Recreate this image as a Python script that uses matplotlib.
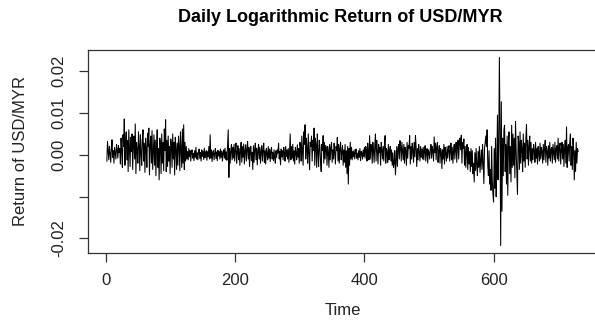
import numpy as np
import matplotlib
matplotlib.use("Agg")
import matplotlib.pyplot as plt

# daily log returns, in units of 1e-4
ret_a = [-15, 32, 8, -12, 20, 5, -18, 14, 36, -6,
         10, -20, 18, 4, -10, 25, 12, -8, 22, 6]
ret_b = [15, -22, 40, 10, -30, 48, 20, 86, -25, 30,
         55, -12, 35, -40, 60, 18, -28, 42, 8, 50,
         -35, 25, 45, -10, 74, -45, 30, 12, -20, 55,
         22, -38, 48, 5, -25, 35, 60, -15, 28, -42,
         40, 15, -30, 52, 20, 64, -48, 25, 45, -20,
         58, -35, 10, 48, -25, 35, -50, 20, 60, -30,
         15, -60, 40, 25, -45, 50, -20, 30, -38, 62,
         10, 84, -40, 35, -28, 45, -15, 20, -45, 38,
         25, -30, 50, -10, 30, -48, 42, 15, -35, 28,
         -25, 45, 20, -38, 55, 10, -30, 62, -20, 72,
         -35, 30, -15, 20, -10]
ret_c = [8, -12, 15, -5, 10, -15, 6, 12, -8, 4,
         -14, 10, -6, 18, -10, 5, -12, 8, 14, -9,
         6, -15, 12, -4, 9, -11, 16, -7, 3, 10,
         -13, 8, -5, 20, -10, 48, -8, 12, -16, 6,
         10, -12, 4, 15, -9, 7, -14, 11, -3, 8,
         -10, 14, -6, 9, -15, 5, 12, -8, 16, -11,
         7, -13, 22, 60, -54, 15, -20, 10, 25, -12]
ret_d = [18, -8, 25, -15, 12, 28, -20, 6, 22, -12,
         15, -25, 10, 30, -18, 20, -6, 26, -22, 8,
         24, -15, 12, 32, -10, 18, -28, 10, 20, -14,
         6, -35, 22, -18, 14, 28, -12, 16, -24, 10,
         25, -10, 18, -20, 8, 22, -15, 12, 28, -18,
         10, -22, 15, 5, -12, 20, -8, 14, -16, 9,
         18, -10, 6, -14, 12]
ret_e = [-8, -20, 10, -6, 12, 4, 28, -10, 8, -24,
         14, -5, 10, -12, 18, 6, -15, 20, -4, 12,
         -10, 15, -18, 8, 50, -12, 20, -8, 25, -15,
         10, -22, 18, 5, -12, 24, -6, 15, -20, 30]
ret_f = [20, -15, 45, 10, -25, 55, 25, 72, -10, 40,
         15, -20, 50, 5, -36, 30, 20, 45, -15, 35,
         10, 64, -25, 40, 22, -30, 50, 5, -28, 35,
         18, -15, -40, 25, 10, 46, -20, 30, -10, 22,
         15, -25, 20, 8, -30, 25, -12, 18, 30, -18,
         12, -10, 28, 5, -22, 20, 10, 42, -15, 25,
         -20, 15, 30, -12, 8, 22, -25, 12, -18, 25,
         -30, 10, -45, 20, -70, 15, -25, 30, -10, 18]
ret_g = [-12, 8, -5, 12, -10, 6, 14, -8, 4, -12,
         10, -6, 15, -14, 8, 5, -10, 12, -4, 18,
         -8, 20, 10, -15, 28, 6, -12, 46, -10, 25,
         15, -20, 30, 8, -18, 22, 50, -15, 35, 10,
         -22, 25, 5, 18, -25, 30, 12, -10, 20, -15,
         28, 46, -20, 15, 8, -18, 25, -12, 10, 20,
         -15, 12, -25, 5, -30, -20, 10, -48, -15, 20,
         -28, 15, 25, -10, 34, 20, -15, 30, 8, -12,
         25, -20, 18, 10, -25, 30, -8, 22, 15, 46,
         -22, 20, -10, 28, 12, -18, 30, -5, 46, 20,
         -28, 15, -12, 25, 8, -15, 20, -6, 14, -10,
         18, -12, 10, 22, -15, 8, 15, -20, 12, 6]
ret_h = [-10, 15, 25, -8, 20, 10, -15, 43, 5, 28,
         -12, 20, 30, -18, 10, 22, -20, 15, 8, -33,
         12, -10, 25, -22, 18, 5, -15, 20, -8, 14,
         22, -15, 10, 28, -12, 18, -20, 8, 25, -10,
         15, 30, -18, 22, 35, -10, 28, 40, 12, 47,
         -20, 30, 15, 38, -25, 20, -30, 10, 25, -35,
         18, -22, 8, -40, 15, -28, 10, -45, -20, -65,
         5, -38, 15, -25, -50, 8, -30, 20, -42, -15,
         12, -35, 25, -20, -69, 15, 30, 45, 20, 60]
ret_i = [-25, -50, 10, -70, -35, -85, 20, -60, -95, -113,
         15, -80, 40, -100, -30, 95, -60, 30, 233, 50,
         -217, 127, -135, 40, -50, 60, 71, -40, 25, -70,
         45, -97, 30, 55, -45, 20, -65, 71, -30, 50,
         -25, 40, -55, 80, 10, -40, -95, 45, 30, -35,
         55, -20, 35, 15, -40, 50, -15, 28, -30, 40,
         73, -10, 35, -25, 20, 45, -15, 30, -20, 15]
ret_j = [-12, 25, 10, -18, 30, -8, 15, -22, 20, 5,
         -15, 28, -10, 18, 8, -20, 25, -12, 15, 35,
         -18, 20, 10, -25, 22, -8, 30, -15, 12, 18,
         -20, 25, 5, -12, 30, -18, 15, 22, -10, 40,
         -15, 20, 28, -22, 12, 30, -10, 25, -28, 15,
         35, -20, 67, -30, 18, 25, -15, 30, 50, -25,
         20, -35, 40, 15, -60, 10, -40, 30, -20, 15,
         8]

returns = np.array(ret_a + ret_b + ret_c + ret_d + ret_e + ret_f + ret_g
                   + ret_h + ret_i + ret_j) * 1e-4
time = np.arange(1, len(returns) + 1)

yticks = [-0.02, -0.01, 0.00, 0.01, 0.02]
ytick_labels = ["-0.02", "", "0.00", "0.01", "0.02"]
xticks = [0, 200, 400, 600]

plt.rcParams['font.family'] = ['Liberation Sans', 'DejaVu Sans']

W, H = 595, 326
fig = plt.figure(figsize=(W / 100, H / 100), dpi=100)
ax = fig.add_axes([88 / W, (H - 253) / H, (597 - 88) / W, (253 - 50) / H])

ax.plot(time, returns, color='black', linewidth=0.75)

# R-style 4% padding
xr = time.max() - time.min()
ax.set_xlim(time.min() - 0.04 * xr, time.max() + 0.04 * xr)
yr = returns.max() - returns.min()
ax.set_ylim(returns.min() - 0.04 * yr, returns.max() + 0.04 * yr)

ax.set_xticks(xticks)
ax.set_xticklabels([str(t) for t in xticks])
ax.set_yticks(yticks)
ax.set_yticklabels(ytick_labels, rotation=90, va='center')

for s in ax.spines.values():
    s.set_color('#333333')
    s.set_linewidth(0.9)
ax.tick_params(axis='both', direction='out', length=6.5, width=0.9,
               color='#333333', labelsize=12, labelcolor='#222222')
ax.tick_params(axis='x', pad=8)
ax.tick_params(axis='y', pad=9)

ax.set_xlabel('Time', fontsize=12, color='#222222', labelpad=11)
ax.set_ylabel('Return of USD/MYR', fontsize=12, color='#222222', labelpad=17)
fig.text(340 / W, 1 - 18 / H, 'Daily Logarithmic Return of USD/MYR',
         ha='center', va='center', fontsize=13, fontweight='bold')

fig.savefig('out.png', dpi=100)
